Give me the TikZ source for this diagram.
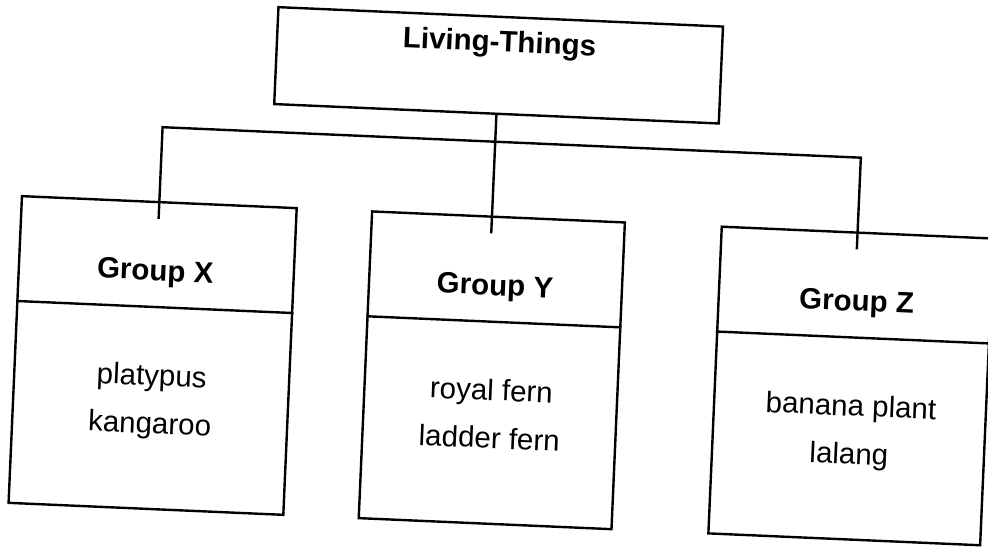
\documentclass[tikz,border=0pt]{standalone}
\usepackage{fontspec}
\setmainfont{Liberation Sans}
\usetikzlibrary{calc}

\begin{document}
\begin{tikzpicture}[x=1pt, y=-1pt, line width=2.4pt,
		box/.style={draw, inner sep=0pt, minimum height=307pt},
		head/.style={anchor=base, font=\bfseries\fontsize{29.5}{35}\selectfont},
		item/.style={anchor=base, font=\fontsize{29.5}{35}\selectfont}]
			%%%%% START %%%%%
			
			\useasboundingbox (0,0) rectangle (988,547);
			
			\begin{scope}[rotate around={-2.5:(0,0)}, transform shape]
			
			\node[draw, inner sep=0pt, minimum width=445pt, minimum height=97pt] (top) at (501, 43.5) {};
			\node[head] (toptxt) at (501, 30) {Living-Things};
			
			\node[box, minimum width=275pt] (gx) at (168, 348.5) {};
			\node[box, minimum width=253pt] (gy) at (507.5, 348.5) {};
			\node[box, minimum width=272pt] (gz) at (867, 348.5) {};
			
			\coordinate (div) at (0, 300);
			\draw (gx.west |- div) -- (gx.east |- div);
			\draw (gy.west |- div) -- (gy.east |- div);
			\draw (gz.west |- div) -- (gz.east |- div);
			
			\node[head] (hx) at (167, 273.5) {Group X};
			\node[head] (hy) at (507, 273.5) {Group Y};
			\node[head] (hz) at (869, 273.5) {Group Z};
			
			\node[item] (x1) at (168, 378.5) {platypus};
			\node[item] (x2) at (168, 426.5) {kangaroo};
			\node[item] (y1) at (508, 378.5) {royal fern};
			\node[item] (y2) at (508, 426.5) {ladder fern};
			\node[item] (z1) at (868, 378.5) {banana plant};
			\node[item] (z2) at (868, 426.5) {lalang};
			
			\coordinate (bus) at (0, 120);
			\draw ($(gx.north)+(0,18)$) -- (gx.north |- bus) -- (gz.north |- bus) -- ($(gz.north)+(0,18)$);
			\draw (top.south) -- ($(top.south |- gy.north)+(0,18)$);
			
			\end{scope}
			
			%%%%% END %%%%%
		\end{tikzpicture}
\end{document}
